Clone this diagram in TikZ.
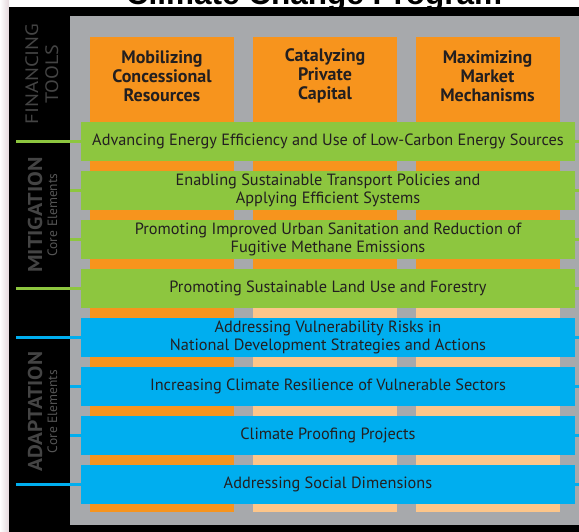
\documentclass[tikz,border=0pt]{standalone}
\usepackage{fontspec}
\setmainfont{PT Sans}
\newfontfamily\titlefont{Liberation Sans}
\definecolor{cOrange}{HTML}{F7941D}
\definecolor{cPeach}{HTML}{FDC68A}
\definecolor{cGreen}{HTML}{8DC63F}
\definecolor{cBlue}{HTML}{00AEEF}
\definecolor{cGray}{HTML}{A7A9AC}
\definecolor{cText}{HTML}{231F20}
\definecolor{cLabel}{HTML}{444444}
\definecolor{cLabelSmall}{HTML}{555555}
\definecolor{cPink}{HTML}{E4D8DC}
\tikzset{
  colbox/.style={fill=cOrange, draw=none, minimum width=144pt, minimum height=475pt, inner sep=0pt, anchor=north west},
  lowbox/.style={fill=cPeach, draw=none, minimum width=144pt, minimum height=222pt, inner sep=0pt, anchor=north west},
  headtext/.style={text=cText, font=\bfseries\fontsize{18}{19}\selectfont, align=center, inner sep=0pt},
  bar/.style={draw=none, minimum width=494pt, minimum height=39pt, inner sep=0pt, text=cText,
     font=\fontsize{16.3}{18}\selectfont, align=center},
  gbar/.style={bar, fill=cGreen},
  bbar/.style={bar, fill=cBlue},
  gline/.style={draw=cGreen, line width=3pt},
  bline/.style={draw=cBlue, line width=3pt},
  biglabel/.style={rotate=90, text=cLabel, inner sep=0pt, align=center, anchor=south},
  smalllabel/.style={rotate=90, text=cLabelSmall, inner sep=0pt, anchor=south, font=\fontsize{13.5}{14}\selectfont},
}
\begin{document}
\begin{tikzpicture}[x=1pt,y=-1pt]
\useasboundingbox (0,0) rectangle (579,532);
\clip (0,0) rectangle (579,532);
\fill[white] (0,0) rectangle (579,532);
\shade[left color=white!95!cPink, right color=cPink] (0,0) rectangle (9,532);
% title (cut off at the top, as in the reference)
\node[anchor=base, font=\titlefont\bfseries\fontsize{31.5}{33}\selectfont, inner sep=0pt] (title) at (314,5) {Climate Change Program};
% panels
\fill[black] (9,7) rectangle (579,532);
\fill[cGray] (70,16) rectangle (579,525);
% columns
\node[colbox] (col1) at (90,37) {};
\node[colbox] (col2) at (253,37) {};
\node[colbox] (col3) at (416,37) {};
\node[lowbox] (low2) at (253,290) {};
\node[lowbox] (low3) at (416,290) {};
\node[headtext] (h1) at (162,76) {Mobilizing\\Concessional\\Resources};
\node[headtext] (h2) at (325,76) {Catalyzing\\Private\\Capital};
\node[headtext] (h3) at (487.5,76) {Maximizing\\Market\\Mechanisms};
% bars
\node[gbar] (b1) at (328,141.5) {Advancing Energy Efficiency and Use of Low-Carbon Energy Sources};
\node[gbar] (b2) at (328,190.5) {Enabling Sustainable Transport Policies and\\Applying Efficient Systems};
\node[gbar] (b3) at (328,239.5) {Promoting Improved Urban Sanitation and Reduction of\\Fugitive Methane Emissions};
\node[gbar] (b4) at (328,288.5) {Promoting Sustainable Land Use and Forestry};
\node[bbar] (b5) at (328,337.5) {Addressing Vulnerability Risks in\\National Development Strategies and Actions};
\node[bbar] (b6) at (328,386.5) {Increasing Climate Resilience of Vulnerable Sectors};
\node[bbar] (b7) at (328,435.5) {Climate Proofing Projects};
\node[bbar] (b8) at (328,484.5) {Addressing Social Dimensions};
% connector ends
\coordinate (l1) at (16,141.5);
\coordinate (l2) at (70,190.5);
\coordinate (l3) at (70,239.5);
\coordinate (l4) at (16,288.5);
\coordinate (l5) at (16,337.5);
\coordinate (l6) at (70,386.5);
\coordinate (l7) at (70,435.5);
\coordinate (l8) at (16,484.5);
\coordinate (r1) at (580,141.5);
\coordinate (r2) at (580,190.5);
\coordinate (r3) at (580,239.5);
\coordinate (r4) at (580,288.5);
\coordinate (r5) at (580,337.5);
\coordinate (r6) at (580,386.5);
\coordinate (r7) at (580,435.5);
\coordinate (r8) at (580,484.5);
\foreach \i in {1,...,4} {\draw[gline] (l\i) -- (b\i.west); \draw[gline] (b\i.east) -- (r\i);}
\foreach \i in {5,...,8} {\draw[bline] (l\i) -- (b\i.west); \draw[bline] (b\i.east) -- (r\i);}
% side labels
\node[biglabel, font=\fontsize{18}{19}\selectfont] (fin) at (38.5,74) {\scalebox{1.15}[1]{FINANCING}};
\node[biglabel, font=\fontsize{18}{19}\selectfont] (tools) at (58.5,74) {\scalebox{1.12}[1]{TOOLS}};
\node[biglabel, font=\bfseries\fontsize{20}{21}\selectfont] (mit) at (42.5,215) {\scalebox{1.1}[1]{MITIGATION}};
\node[smalllabel] (mitce) at (57.5,215) {Core Elements};
\node[biglabel, font=\bfseries\fontsize{20}{21}\selectfont] (ada) at (42.5,411.5) {\scalebox{1.07}[1]{ADAPTATION}};
\node[smalllabel] (adace) at (57.5,411.5) {Core Elements};
\end{tikzpicture}
\end{document}
